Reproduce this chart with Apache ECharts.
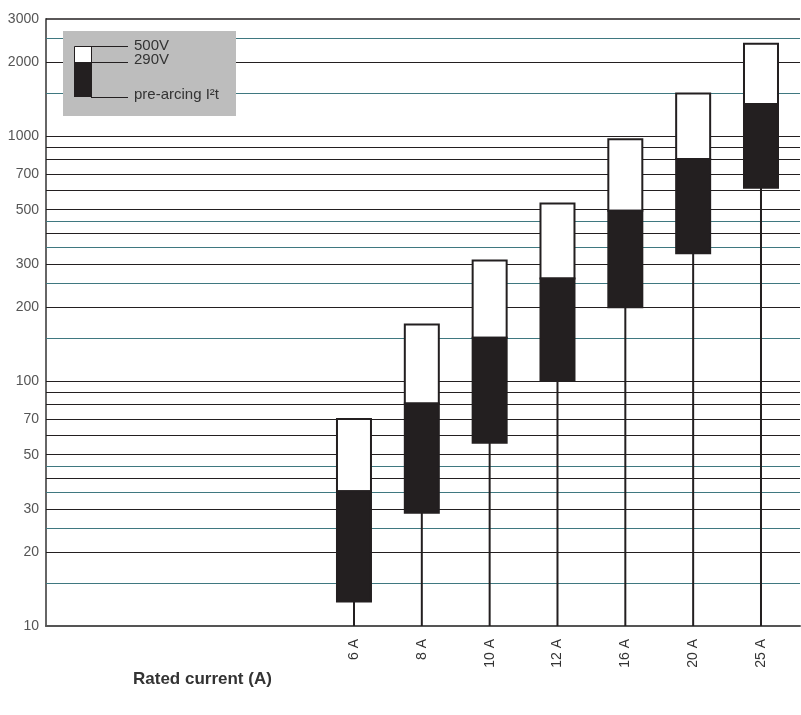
<!DOCTYPE html>
<html>
<head>
<meta charset="utf-8">
<script src="https://cdn.jsdelivr.net/npm/echarts@6/dist/echarts.min.js"></script>
<style>
html,body{margin:0;padding:0;background:#fff;}
#chart{width:801px;height:715px;}
</style>
</head>
<body>
<div id="chart"></div>
<script>
// ---- data ----
const categories = ['', '', '', '', '6 A', '8 A', '10 A', '12 A', '16 A', '20 A', '25 A'];
const ratedLabels = ['6 A', '8 A', '10 A', '12 A', '16 A', '20 A', '25 A'];
const preArcing = [12.6, 29, 56, 100, 200, 332, 615];     // bottom of black box
const at290V = [35.5, 81, 150, 262, 495, 805, 1350];      // top of black box
const at500V = [70, 170, 310, 530, 970, 1490, 2380];      // top of white box
const yTickLabels = [10, 20, 30, 50, 70, 100, 200, 300, 500, 700, 1000, 2000, 3000];
const blackGrid = [20, 30, 40, 50, 60, 70, 80, 90, 100, 200, 300, 400, 500, 600, 700, 800, 900, 1000, 2000, 3000];
const tealGrid = [15, 25, 35, 45, 150, 250, 350, 450, 1500, 2500];
const Y_MIN = 10, Y_MAX = 3000;
const X_MIN = -0.54, X_MAX = 10.575;

const catIndex = ratedLabels.map(c => categories.indexOf(c));
const boxData = ratedLabels.map((c, i) => [catIndex[i], preArcing[i], at290V[i], at500V[i]]);

const DARK = '#231f20';
const chart = echarts.init(document.getElementById('chart'), null, {renderer: 'canvas'});
const option = {
  animation: false,
  backgroundColor: '#fff',
  grid: {left: 46, right: 1, top: 19, bottom: 89, containLabel: false},
  xAxis: {
    type: 'value',
    min: X_MIN,
    max: X_MAX,
    axisLine: {onZero: false, lineStyle: {color: '#555', width: 2}},
    axisTick: {show: false},
    axisLabel: {customValues: catIndex, formatter: v => categories[Math.round(v)] || '', rotate: 90, margin: 13, color: '#333', fontSize: 14, fontFamily: 'Liberation Sans, Arial, sans-serif', showMinLabel: true, showMaxLabel: true},
    splitLine: {show: false}
  },
  yAxis: {
    type: 'log',
    logBase: 10,
    min: Y_MIN,
    max: Y_MAX,
    axisLine: {show: true, onZero: false, lineStyle: {color: '#666', width: 2}},
    axisTick: {show: false},
    axisLabel: {customValues: yTickLabels, formatter: v => String(Math.round(v)), margin: 7, color: '#555', fontSize: 14, fontFamily: 'Liberation Sans, Arial, sans-serif'},
    splitLine: {show: false},
    minorSplitLine: {show: false}
  },
  series: [
    {
      type: 'line', data: [], z: 1, silent: true,
      markLine: {
        silent: true, symbol: 'none', animation: false,
        label: {show: false},
        data: blackGrid.map(v => ({yAxis: v, lineStyle: {color: DARK, width: v === 3000 ? 1.5 : 1, type: 'solid'}}))
      }
    },
    {
      type: 'line', data: [], z: 1, silent: true,
      markLine: {
        silent: true, symbol: 'none', animation: false,
        label: {show: false},
        data: tealGrid.map(v => ({yAxis: v, lineStyle: {color: '#3f7880', width: 1, type: 'solid'}}))
      }
    },
    {
      type: 'custom', z: 5,
      encode: {x: 0, y: [1, 2, 3]},
      data: boxData,
      renderItem: function (params, api) {
        const x = api.value(0);
        const pBase = api.coord([x, Y_MIN]);
        const pLo = api.coord([x, api.value(1)]);
        const pMid = api.coord([x, api.value(2)]);
        const pHi = api.coord([x, api.value(3)]);
        const w = 34;
        return {
          type: 'group',
          children: [
            {type: 'line', shape: {x1: pBase[0], y1: pBase[1], x2: pLo[0], y2: pLo[1]}, style: {stroke: DARK, lineWidth: 2}},
            {type: 'rect', shape: {x: pHi[0] - w / 2, y: pHi[1], width: w, height: pMid[1] - pHi[1]}, style: {fill: '#fff', stroke: DARK, lineWidth: 2}},
            {type: 'rect', shape: {x: pMid[0] - w / 2, y: pMid[1], width: w, height: pLo[1] - pMid[1]}, style: {fill: DARK, stroke: DARK, lineWidth: 2}}
          ]
        };
      }
    }
  ],
  graphic: [
    {type: 'rect', left: 63, top: 31, z: 10, shape: {width: 173, height: 85}, style: {fill: '#bdbdbd'}},
    {type: 'rect', z: 11, shape: {x: 74.5, y: 46.5, width: 17, height: 16}, style: {fill: '#fff', stroke: DARK, lineWidth: 1}},
    {type: 'rect', z: 11, shape: {x: 74, y: 62, width: 18, height: 35}, style: {fill: DARK}},
    {type: 'line', z: 11, shape: {x1: 91, y1: 46.5, x2: 128, y2: 46.5}, style: {stroke: DARK, lineWidth: 1}},
    {type: 'line', z: 11, shape: {x1: 91, y1: 62.5, x2: 128, y2: 62.5}, style: {stroke: DARK, lineWidth: 1}},
    {type: 'line', z: 11, shape: {x1: 91, y1: 97.5, x2: 128, y2: 97.5}, style: {stroke: DARK, lineWidth: 1}},
    {type: 'text', z: 11, style: {x: 134, y: 45.5, text: '500V', fill: '#333', font: '15px Liberation Sans, Arial, sans-serif', textVerticalAlign: 'middle'}},
    {type: 'text', z: 11, style: {x: 134, y: 60, text: '290V', fill: '#333', font: '15px Liberation Sans, Arial, sans-serif', textVerticalAlign: 'middle'}},
    {type: 'text', z: 11, style: {x: 134, y: 94.5, text: 'pre-arcing I²t', fill: '#333', font: '15px Liberation Sans, Arial, sans-serif', textVerticalAlign: 'middle'}},
    {type: 'text', z: 11, style: {x: 133, y: 679, text: 'Rated current (A)', fill: '#333', font: 'bold 17px Liberation Sans, Arial, sans-serif', textVerticalAlign: 'middle'}}
  ]
};
chart.setOption(option);
</script>
</body>
</html>
